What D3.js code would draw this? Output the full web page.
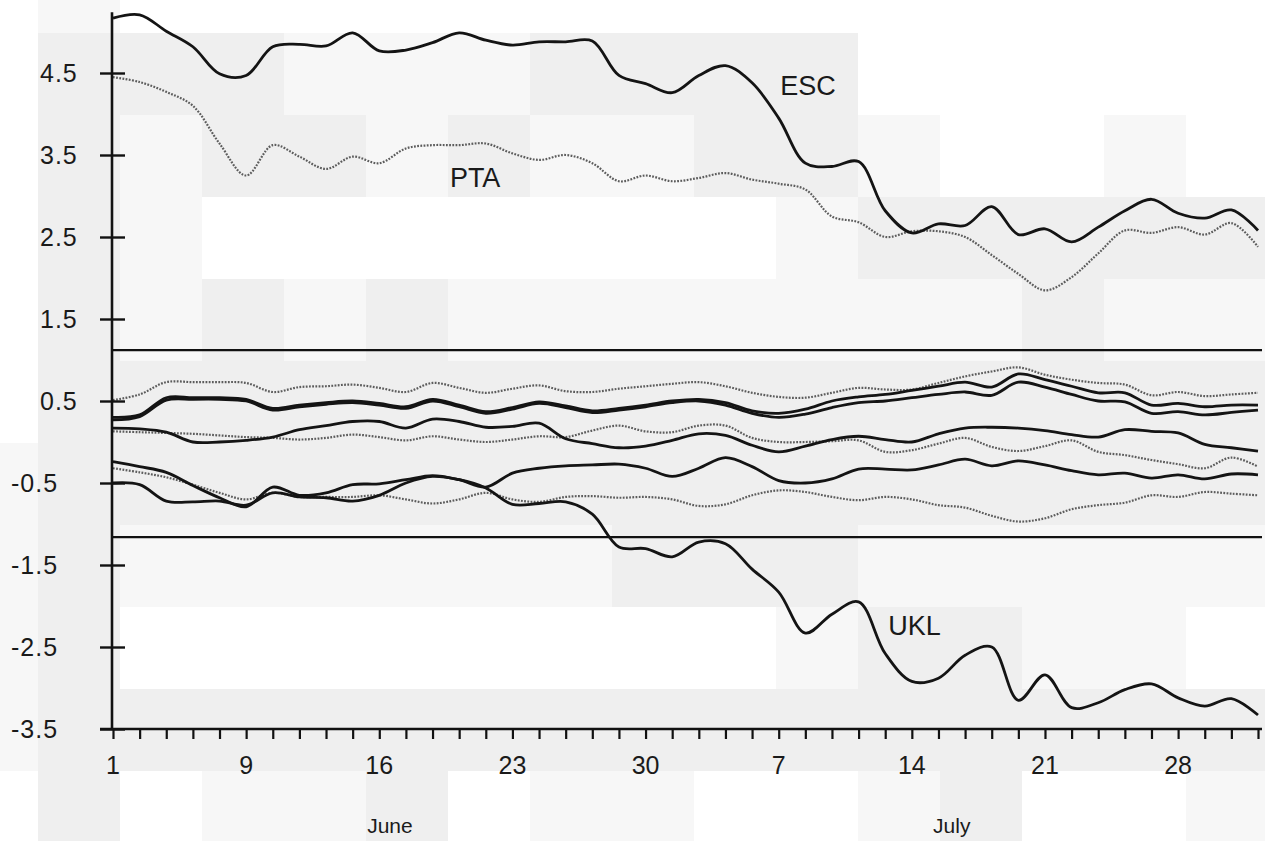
<!DOCTYPE html>
<html>
  <head>
    <meta charset="utf-8">
    <title>ESC / PTA / UKL</title>
    <script src="https://d3js.org/d3.v7.min.js"></script>
    <style>
      body { margin: 0; background: #fff; }
      text { font-family: "Liberation Sans", Arial, Helvetica, sans-serif; fill: #1a1a1a; }
    </style>
  </head>
  <body>
    <div id="chart"></div>
    <script>
      // one value per small tick on the time axis (0..43)
      var steps = d3.range(44);

      var esc = [5.17,5.21,5.01,4.82,4.49,4.47,4.82,4.85,4.83,4.99,
                 4.77,4.78,4.87,4.99,4.90,4.84,4.88,4.88,4.89,4.47,
                 4.37,4.26,4.47,4.59,4.38,3.95,3.40,3.36,3.42,2.82,
                 2.55,2.66,2.64,2.87,2.53,2.60,2.44,2.62,2.82,2.96,
                 2.79,2.73,2.83,2.58];
      var pta = [4.45,4.39,4.27,4.10,3.64,3.25,3.62,3.48,3.33,3.48,
                 3.40,3.58,3.62,3.62,3.64,3.52,3.44,3.50,3.40,3.18,
                 3.25,3.18,3.22,3.28,3.20,3.15,3.08,2.75,2.68,2.50,
                 2.57,2.57,2.50,2.28,2.05,1.85,2.01,2.30,2.58,2.55,
                 2.62,2.53,2.67,2.38];
      var ukl = [-0.50,-0.52,-0.72,-0.73,-0.72,-0.77,-0.62,-0.67,-0.68,-0.72,
                 -0.65,-0.50,-0.42,-0.46,-0.56,-0.76,-0.75,-0.73,-0.88,-1.28,
                 -1.30,-1.40,-1.22,-1.24,-1.55,-1.83,-2.33,-2.10,-1.95,-2.58,
                 -2.92,-2.88,-2.60,-2.50,-3.15,-2.84,-3.24,-3.18,-3.02,-2.95,
                 -3.12,-3.22,-3.13,-3.33];

      // the other sites, all inside the limits
      var blackHi1 = [0.30,0.33,0.54,0.54,0.54,0.52,0.41,0.45,0.48,0.50,
                      0.47,0.43,0.52,0.45,0.37,0.42,0.49,0.44,0.38,0.41,
                      0.45,0.50,0.52,0.48,0.38,0.35,0.40,0.50,0.55,0.58,
                      0.63,0.68,0.73,0.67,0.83,0.76,0.68,0.60,0.60,0.45,
                      0.47,0.43,0.45,0.45];
      var blackHi2 = [0.27,0.31,0.51,0.52,0.52,0.50,0.39,0.43,0.46,0.48,
                      0.45,0.41,0.50,0.43,0.35,0.40,0.47,0.42,0.36,0.39,
                      0.43,0.48,0.50,0.45,0.35,0.30,0.34,0.42,0.48,0.50,
                      0.54,0.58,0.61,0.57,0.73,0.67,0.58,0.50,0.49,0.35,
                      0.37,0.33,0.36,0.39];
      var blackMid = [0.17,0.16,0.12,0.00,0.00,0.02,0.06,0.15,0.20,0.25,
                      0.25,0.17,0.28,0.25,0.18,0.19,0.23,0.04,-0.02,-0.07,
                      -0.05,0.02,0.10,0.08,-0.04,-0.12,-0.05,0.03,0.07,0.03,
                      0.00,0.10,0.17,0.18,0.17,0.14,0.09,0.06,0.15,0.13,
                      0.11,-0.03,-0.07,-0.11];
      var blackLow = [-0.24,-0.30,-0.37,-0.53,-0.68,-0.79,-0.55,-0.65,-0.62,-0.52,
                      -0.51,-0.46,-0.41,-0.46,-0.55,-0.38,-0.32,-0.29,-0.28,-0.27,
                      -0.32,-0.42,-0.32,-0.19,-0.30,-0.47,-0.50,-0.45,-0.33,-0.33,
                      -0.34,-0.28,-0.21,-0.29,-0.23,-0.28,-0.35,-0.40,-0.38,-0.44,
                      -0.40,-0.45,-0.39,-0.40];
      var greyHi = [0.51,0.58,0.73,0.73,0.73,0.72,0.61,0.67,0.68,0.70,
                    0.66,0.61,0.72,0.66,0.60,0.65,0.69,0.62,0.61,0.65,
                    0.68,0.71,0.73,0.68,0.60,0.55,0.54,0.60,0.66,0.64,
                    0.64,0.72,0.80,0.86,0.91,0.82,0.76,0.72,0.70,0.57,
                    0.61,0.56,0.58,0.60];
      var greyMid = [0.13,0.12,0.11,0.10,0.08,0.06,0.05,0.03,0.05,0.09,
                     0.06,0.02,0.07,0.03,0.00,0.03,0.07,0.06,0.14,0.20,
                     0.13,0.12,0.20,0.20,0.05,0.00,0.00,0.01,0.02,-0.12,
                     -0.10,-0.02,0.05,-0.06,-0.11,-0.05,0.02,-0.12,-0.16,-0.22,
                     -0.27,-0.32,-0.19,-0.30];
      var greyLow = [-0.32,-0.37,-0.43,-0.52,-0.62,-0.70,-0.62,-0.67,-0.67,-0.67,
                     -0.65,-0.70,-0.75,-0.70,-0.62,-0.70,-0.73,-0.67,-0.66,-0.68,
                     -0.67,-0.70,-0.78,-0.76,-0.65,-0.59,-0.61,-0.67,-0.71,-0.67,
                     -0.70,-0.77,-0.80,-0.90,-0.97,-0.93,-0.82,-0.77,-0.74,-0.65,
                     -0.67,-0.61,-0.63,-0.65];

      var limits = [1.12, -1.16];
      var yTicks = [4.5, 3.5, 2.5, 1.5, 0.5, -0.5, -1.5, -2.5, -3.5];
      var dayLabels = ["1", "9", "16", "23", "30", "7", "14", "21", "28"];
      var dayLabelSteps = [0, 5, 10, 15, 20, 25, 30, 35, 40];
      var months = ["June", "July"];
      var monthSteps = [10.4, 31.5];

      // paper tone of the scan, 82px cells (0 white, 1 light, 2 grey)
      var paper = [
        [0,1,0,0,0,0,0,0,0,0,0,0,0,0,0,0],
        [0,2,2,2,1,1,1,2,2,2,2,0,0,0,0,0],
        [0,2,1,2,2,1,2,1,1,2,2,1,0,0,1,0],
        [0,2,1,0,0,0,0,0,0,0,1,2,2,2,2,2],
        [0,2,1,2,1,2,1,1,1,1,1,1,1,2,1,1],
        [0,2,2,2,2,2,2,2,2,2,2,2,2,2,2,2],
        [1,2,2,2,2,2,2,2,2,2,2,2,2,2,2,2],
        [1,2,1,1,1,1,1,1,2,2,2,1,1,1,1,1],
        [1,2,0,0,0,0,0,0,0,0,1,2,2,1,1,0],
        [1,2,2,2,2,2,2,2,2,2,2,2,2,2,2,2],
        [0,2,0,1,1,2,0,1,1,0,0,1,2,0,0,1]
      ];
      var paperTone = ['#ffffff', '#f7f7f7', '#efefef'];

      var svg = d3.select('#chart').append('svg')
        .attr('width', 1265)
        .attr('height', 841);

      var x = d3.scaleLinear().domain([0, 43]).range([113, 1258]);
      var y = d3.scaleLinear().domain([-3.5, 4.5]).range([729, 73]);

      paper.forEach(function (row, r) {
        row.forEach(function (v, c) {
          svg.append('rect')
            .attr('x', -44 + c * 82).attr('y', -49 + r * 82)
            .attr('width', 82).attr('height', 82)
            .attr('fill', paperTone[v]);
        });
      });

      // control limits
      svg.selectAll('.limit')
        .data(limits)
        .enter().append('line')
        .attr('class', 'limit')
        .attr('x1', 112).attr('x2', 1262)
        .attr('y1', function (d) { return y(d); })
        .attr('y2', function (d) { return y(d); })
        .attr('stroke', '#111').attr('stroke-width', 2.4);

      var line = d3.line()
        .x(function (d, i) { return x(steps[i]); })
        .y(function (d) { return y(d); })
        .curve(d3.curveCatmullRom.alpha(0.5));

      var dotted = [greyHi, greyMid, greyLow, pta];
      var solid = [blackHi1, blackHi2, blackMid, blackLow, ukl, esc];

      svg.selectAll('.dotted')
        .data(dotted)
        .enter().append('path')
        .attr('class', 'dotted')
        .attr('d', line)
        .attr('fill', 'none')
        .attr('stroke', '#5c5c5c')
        .attr('stroke-width', 2.2)
        .attr('stroke-dasharray', '1.8,1.4');

      svg.selectAll('.solid')
        .data(solid)
        .enter().append('path')
        .attr('class', 'solid')
        .attr('d', line)
        .attr('fill', 'none')
        .attr('stroke', '#141414')
        .attr('stroke-width', 2.8)
        .attr('stroke-linejoin', 'round');

      // y axis, ticks cross the line
      var yAxis = svg.append('g')
        .attr('transform', 'translate(112,0)')
        .call(d3.axisLeft(y).tickValues(yTicks).tickSize(12).tickFormat(''));
      yAxis.select('.domain').remove();
      yAxis.selectAll('.tick line').attr('stroke', '#111').attr('stroke-width', 2.4);
      yAxis.selectAll('.tick').append('line')
        .attr('x2', 13).attr('stroke', '#111').attr('stroke-width', 2.4);
      svg.append('line')
        .attr('x1', 112).attr('x2', 112)
        .attr('y1', y(5.24)).attr('y2', 730)
        .attr('stroke', '#111').attr('stroke-width', 2.6);

      svg.selectAll('.ylab')
        .data(yTicks)
        .enter().append('text')
        .attr('class', 'ylab')
        .attr('x', function (d) { return d < 0 ? 11 : 40; })
        .attr('y', function (d) { return y(d) + 9; })
        .style('font-size', '25px')
        .style('letter-spacing', '1px')
        .text(function (d) { return d.toFixed(1); });

      // x axis
      var xAxis = svg.append('g')
        .attr('transform', 'translate(0,729)')
        .call(d3.axisBottom(x).tickValues(steps).tickSize(10).tickFormat(''));
      xAxis.select('.domain').remove();
      xAxis.selectAll('.tick line').attr('stroke', '#111').attr('stroke-width', 2.2);
      svg.append('line')
        .attr('x1', 100).attr('x2', 1262)
        .attr('y1', 729).attr('y2', 729)
        .attr('stroke', '#111').attr('stroke-width', 2.6);

      svg.selectAll('.xlab')
        .data(dayLabels)
        .enter().append('text')
        .attr('class', 'xlab')
        .attr('x', function (d, i) { return x(dayLabelSteps[i]); })
        .attr('y', 774)
        .attr('text-anchor', 'middle')
        .style('font-size', '25px')
        .text(function (d) { return d; });

      svg.selectAll('.month')
        .data(months)
        .enter().append('text')
        .attr('class', 'month')
        .attr('x', function (d, i) { return x(monthSteps[i]); })
        .attr('y', 833)
        .attr('text-anchor', 'middle')
        .style('font-size', '21px')
        .text(function (d) { return d; });

      // series names
      var names = [
        { t: 'ESC', s: 26.1, v: 4.23 },
        { t: 'PTA', s: 13.6, v: 3.11 },
        { t: 'UKL', s: 30.1, v: -2.35 }
      ];
      svg.selectAll('.name')
        .data(names)
        .enter().append('text')
        .attr('class', 'name')
        .attr('x', function (d) { return x(d.s); })
        .attr('y', function (d) { return y(d.v); })
        .attr('text-anchor', 'middle')
        .style('font-size', '27px')
        .text(function (d) { return d.t; });
    </script>
  </body>
</html>
